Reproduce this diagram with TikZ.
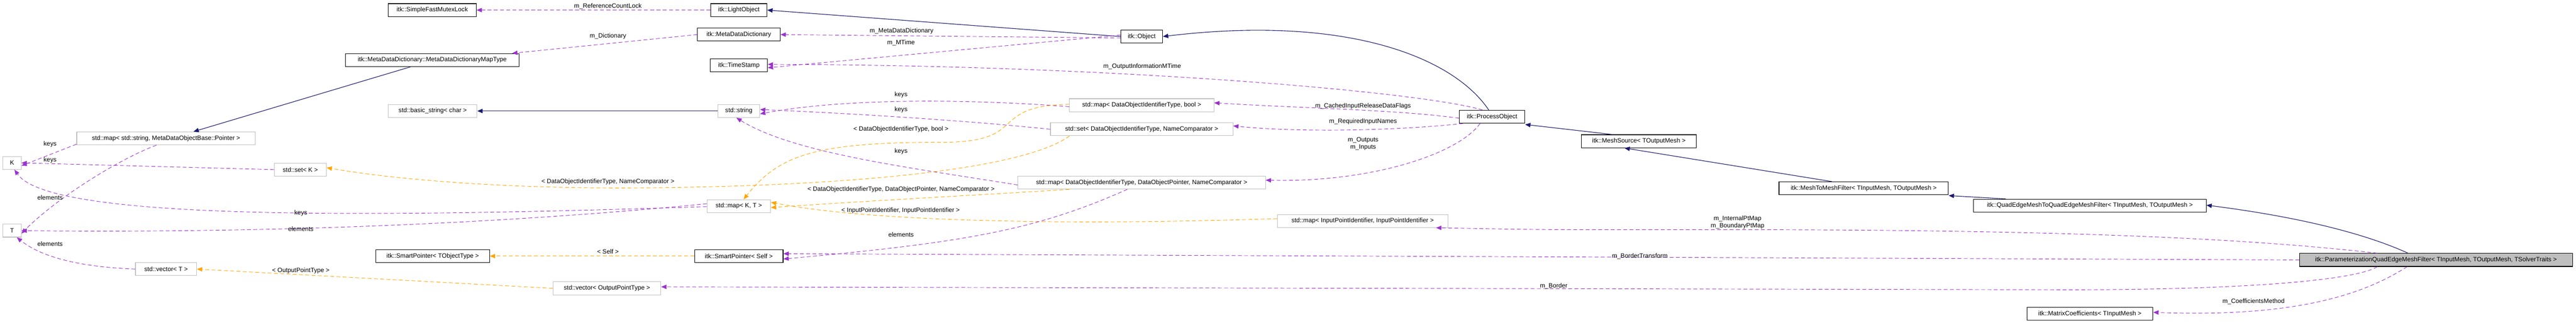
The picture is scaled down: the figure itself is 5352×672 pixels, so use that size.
\documentclass[tikz,border=0pt]{standalone}
\usepackage{fontspec}
\setmainfont{Liberation Sans}
\usetikzlibrary{arrows.meta}
\definecolor{pur}{HTML}{9A32CD}
\definecolor{org}{HTML}{FFA500}
\definecolor{nav}{HTML}{191970}
\definecolor{gb}{HTML}{BFBFBF}
\begin{document}
\begin{tikzpicture}[x=1pt,y=-1pt,
  font=\fontsize{13}{14}\selectfont,
  bx/.style={draw=black,line width=1.2pt,minimum height=27pt,inner sep=0pt,fill=white},
  gx/.style={draw=gb,line width=1.2pt,minimum height=27pt,inner sep=0pt,fill=white},
  pe/.style={draw=pur,dashed,line width=1pt,dash pattern=on 8pt off 5pt,-{Triangle[length=11pt,width=9pt]},shorten >=0pt},
  oe/.style={draw=org,dashed,line width=1pt,dash pattern=on 8pt off 5pt,-{Triangle[length=11pt,width=9pt]}},
  ne/.style={draw=nav,line width=1.2pt,-{Triangle[length=11pt,width=9pt]}},
  lb/.style={font=\fontsize{13}{15}\selectfont,align=center,inner sep=1pt}]
\useasboundingbox (0,0) rectangle (5352,672);
% nodes
\node[bx,minimum width=183pt] (sfml) at (898,21) {itk::SimpleFastMutexLock};
\node[bx,minimum width=361pt] (maptype) at (898,125) {itk::MetaDataDictionary::MetaDataDictionaryMapType};
\node[gx,minimum width=184pt] (basic) at (899,231) {std::basic\_string< char >};
\node[gx,minimum width=371pt] (mapstr) at (345,288) {std::map< std::string, MetaDataObjectBase::Pointer >};
\node[gx,minimum width=38pt] (K) at (25,339) {K};
\node[gx,minimum width=38pt] (T) at (25,480) {T};
\node[gx,minimum width=108pt] (setK) at (624,353) {std::set< K >};
\node[gx,minimum width=127pt] (vecT) at (345,560) {std::vector< T >};
\node[bx,minimum width=236pt] (spt) at (899,533) {itk::SmartPointer< TObjectType >};
\node[bx,minimum width=117pt] (lo) at (1535,21) {itk::LightObject};
\node[bx,minimum width=172pt] (mdd) at (1535,72) {itk::MetaDataDictionary};
\node[bx,minimum width=119pt] (ts) at (1535,136) {itk::TimeStamp};
\node[gx,minimum width=87pt] (str) at (1535,231) {std::string};
\node[gx,minimum width=132pt] (mapKT) at (1535,429) {std::map< K, T >};
\node[bx,minimum width=184pt] (sps) at (1535,533) {itk::SmartPointer< Self >};
\node[gx,minimum width=224pt] (vecO) at (1261,600) {std::vector< OutputPointType >};
\node[bx,minimum width=87pt] (obj) at (2372,76) {itk::Object};
\node[gx,minimum width=300pt] (mapb) at (2372,219) {std::map< DataObjectIdentifierType, bool >};
\node[gx,minimum width=379pt] (setD) at (2372,269) {std::set< DataObjectIdentifierType, NameComparator >};
\node[gx,minimum width=514pt] (mapD) at (2372,380) {std::map< DataObjectIdentifierType, DataObjectPointer, NameComparator >};
\node[gx,minimum width=354pt] (mapI) at (2831,460) {std::map< InputPointIdentifier, InputPointIdentifier >};
\node[bx,minimum width=136pt] (proc) at (3100,243) {itk::ProcessObject};
\node[bx,minimum width=239pt] (msrc) at (3405,294) {itk::MeshSource< TOutputMesh >};
\node[bx,minimum width=352pt] (m2m) at (3872,392) {itk::MeshToMeshFilter< TInputMesh, TOutputMesh >};
\node[bx,minimum width=483pt] (qe) at (4342,428) {itk::QuadEdgeMeshToQuadEdgeMeshFilter< TInputMesh, TOutputMesh >};
\node[bx,minimum width=262pt] (mc) at (4342,653) {itk::MatrixCoefficients< TInputMesh >};
\node[bx,fill=gb,minimum width=567pt] (par) at (5061,541) {itk::ParameterizationQuadEdgeMeshFilter< TInputMesh, TOutputMesh, TSolverTraits >};
% edges
\draw[pe] (lo.west) -- (sfml.east);
\draw[ne] (obj.west) -- (lo.east);
\draw[pe] (mdd.west) -- ([xshift=-15pt]maptype.north east);
\draw[pe] ([yshift=-3pt]obj.west) -- (mdd.east);
\draw[pe] ([yshift=3pt]obj.west) -- ([yshift=-5pt]ts.east);
\draw[pe] ([xshift=-20pt]proc.north) .. controls (2950,190) and (2300,135) .. ([yshift=2pt]ts.east);
\draw[ne] ([xshift=-7pt]proc.north) .. controls (3020,120) and (2800,30) .. (obj.east);
\draw[ne] ([xshift=-45pt]maptype.south) -- ([xshift=57pt]mapstr.north);
\draw[ne] (str.west) -- (basic.east);
\draw[pe] ([yshift=2pt]mapstr.south west) -- ([yshift=-6pt]K.east);
\draw[pe] ([xshift=-20pt]mapstr.south) .. controls (250,330) and (120,410) .. ([yshift=-6pt]T.east);
\draw[pe] (setK.west) -- (K.east);
\draw[pe] ([yshift=-1pt]mapKT.west) .. controls (700,455) and (100,455) .. ([xshift=5pt]K.south);
\draw[pe] ([yshift=5pt]mapKT.west) .. controls (1000,470) and (500,485) .. (T.east);
\draw[pe] (vecT.west) .. controls (150,555) and (80,530) .. ([xshift=10pt]T.south);
\draw[pe] ([yshift=-3pt]mapb.west) .. controls (2000,205) and (1750,205) .. ([yshift=-6pt]str.east);
\draw[pe] (setD.west) .. controls (2000,250) and (1750,235) .. ([yshift=3pt]str.east);
\draw[pe] ([yshift=-5pt]mapD.west) .. controls (1900,350) and (1650,320) .. ([xshift=-5pt]str.south);
\draw[oe] ([yshift=2pt]mapb.west) .. controls (2050,220) and (2140,296) .. (1960,296) .. controls (1700,296) and (1620,320) .. ([xshift=10pt]mapKT.north);
\draw[oe] ([xshift=-150pt]setD.south) .. controls (2100,370) and (1600,392) .. (1263,391) .. controls (1000,390) and (800,370) .. ([yshift=4pt]setK.east);
\draw[oe] ([xshift=-150pt]mapD.south) .. controls (2050,405) and (1800,418) .. ([yshift=-3pt]mapKT.east);
\draw[oe] ([yshift=5pt]mapI.west) .. controls (2200,470) and (1800,460) .. ([yshift=8pt]mapKT.east);
\draw[pe] ([xshift=-30pt]mapD.south) .. controls (2150,480) and (2000,505) .. ([yshift=-6pt]sps.east);
\draw[oe] (sps.west) -- (spt.east);
\draw[oe] (vecO.west) -- (vecT.east);
\draw[pe] ([yshift=-3pt]proc.west) .. controls (2900,228) and (2700,225) .. ([yshift=5pt]mapb.east);
\draw[pe] ([xshift=8pt]proc.south west) .. controls (2900,272) and (2700,276) .. ([yshift=7pt]setD.east);
\draw[pe] ([xshift=-25pt]proc.south) .. controls (3030,320) and (2850,380) .. ([yshift=5pt]mapD.east);
\draw[ne] ([xshift=-55pt]msrc.north) -- ([yshift=-2pt]proc.south east);
\draw[ne] ([xshift=-66pt]m2m.north) -- ([xshift=-30pt]msrc.south);
\draw[ne] ([xshift=67pt]qe.north west) -- ([yshift=-1pt]m2m.south east);
\draw[ne] ([xshift=-58pt]par.north) .. controls (4900,480) and (4750,448) .. ([yshift=1pt]qe.east);
\draw[pe] ([xshift=-122pt]par.north) .. controls (4700,500) and (4350,478) .. (3600,478) -- (3300,478) .. controls (3150,478) and (3050,475) .. ([xshift=-25pt]mapI.south east);
\draw[pe] (par.west) -- ([yshift=5pt]sps.east);
\draw[pe] ([xshift=-122pt]par.south) .. controls (4900,580) and (4700,603) .. (4300,603) -- ([yshift=3pt]vecO.east);
\draw[pe] ([xshift=-60pt]par.south) .. controls (4900,620) and (4750,660) .. ([yshift=3pt]mc.east);
% labels
\node[lb] (l1) at (1263,13) {m\_ReferenceCountLock};
\node[lb] (l2) at (1263,75) {m\_Dictionary};
\node[lb] (l3) at (1873,65) {m\_MetaDataDictionary};
\node[lb] (l4) at (1872,89) {m\_MTime};
\node[lb] (l5) at (2373,138) {m\_OutputInformationMTime};
\node[lb] (l6) at (1872,197) {keys};
\node[lb] (l7) at (1872,228) {keys};
\node[lb] (l8) at (1872,269) {< DataObjectIdentifierType, bool >};
\node[lb] (l9) at (1872,315) {keys};
\node[lb] (l10) at (1263,378) {< DataObjectIdentifierType, NameComparator >};
\node[lb] (l11) at (1872,394) {< DataObjectIdentifierType, DataObjectPointer, NameComparator >};
\node[lb] (l12) at (1871,438) {< InputPointIdentifier, InputPointIdentifier >};
\node[lb] (l13) at (1872,488) {elements};
\node[lb] (l14) at (104,300) {keys};
\node[lb] (l15) at (104,333) {keys};
\node[lb] (l16) at (104,411) {elements};
\node[lb] (l17) at (625,444) {keys};
\node[lb] (l18) at (625,477) {elements};
\node[lb] (l19) at (104,507) {elements};
\node[lb] (l20) at (625,563) {< OutputPointType >};
\node[lb] (l21) at (1263,524) {< Self >};
\node[lb] (l22) at (2832,221) {m\_CachedInputReleaseDataFlags};
\node[lb] (l23) at (2832,253) {m\_RequiredInputNames};
\node[lb] (l24) at (2832,299) {m\_Outputs\\m\_Inputs};
\node[lb] (l25) at (3407,533) {m\_BorderTransform};
\node[lb] (l26) at (3228,595) {m\_Border};
\node[lb] (l27) at (3610,463) {m\_InternalPtMap\\m\_BoundaryPtMap};
\node[lb] (l28) at (4682,628) {m\_CoefficientsMethod};
\end{tikzpicture}
\end{document}
